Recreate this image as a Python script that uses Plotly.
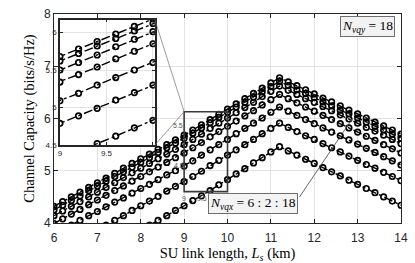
import plotly.graph_objects as go

# ---------------- data ----------------
x_km = [6.0, 6.2, 6.4, 6.6, 6.8, 7.0, 7.2, 7.4, 7.6, 7.8,
        8.0, 8.2, 8.4, 8.6, 8.8, 9.0, 9.2, 9.4, 9.6, 9.8,
        10.0, 10.2, 10.4, 10.6, 10.8, 11.0, 11.2, 11.4, 11.6, 11.8,
        12.0, 12.2, 12.4, 12.6, 12.8, 13.0, 13.2, 13.4, 13.6, 13.8, 14.0]

N_vqx = [18, 16, 14, 12, 10, 8, 6]

cap_18 = [4.32, 4.41, 4.50, 4.59, 4.68, 4.77, 4.86, 4.95, 5.05, 5.14,
          5.23, 5.32, 5.41, 5.50, 5.59, 5.68, 5.78, 5.88, 5.98, 6.08,
          6.18, 6.28, 6.38, 6.48, 6.58, 6.68, 6.78, 6.70, 6.63, 6.55,
          6.47, 6.39, 6.32, 6.24, 6.16, 6.09, 6.01, 5.93, 5.86, 5.78, 5.70]
cap_16 = [4.25, 4.34, 4.43, 4.52, 4.62, 4.71, 4.80, 4.89, 4.98, 5.07,
          5.16, 5.25, 5.35, 5.44, 5.53, 5.62, 5.72, 5.82, 5.92, 6.02,
          6.12, 6.22, 6.31, 6.41, 6.51, 6.61, 6.71, 6.63, 6.55, 6.48,
          6.40, 6.32, 6.24, 6.16, 6.09, 6.01, 5.93, 5.85, 5.78, 5.70, 5.62]
cap_14 = [4.14, 4.23, 4.32, 4.41, 4.50, 4.59, 4.68, 4.77, 4.87, 4.96,
          5.05, 5.14, 5.23, 5.32, 5.41, 5.50, 5.60, 5.70, 5.81, 5.91,
          6.01, 6.11, 6.21, 6.31, 6.42, 6.52, 6.62, 6.54, 6.46, 6.38,
          6.31, 6.23, 6.15, 6.07, 5.99, 5.91, 5.83, 5.76, 5.68, 5.60, 5.52]
cap_12 = [3.99, 4.08, 4.17, 4.26, 4.35, 4.44, 4.53, 4.62, 4.71, 4.80,
          4.89, 4.98, 5.07, 5.16, 5.25, 5.34, 5.44, 5.54, 5.65, 5.75,
          5.85, 5.95, 6.05, 6.15, 6.26, 6.36, 6.46, 6.38, 6.30, 6.22,
          6.14, 6.06, 5.98, 5.90, 5.82, 5.74, 5.66, 5.58, 5.50, 5.42, 5.34]
cap_10 = [3.79, 3.88, 3.96, 4.05, 4.14, 4.22, 4.31, 4.40, 4.48, 4.57,
          4.66, 4.74, 4.83, 4.92, 5.00, 5.09, 5.19, 5.30, 5.40, 5.50,
          5.60, 5.71, 5.81, 5.91, 6.01, 6.12, 6.22, 6.14, 6.06, 5.98,
          5.90, 5.82, 5.74, 5.67, 5.59, 5.51, 5.43, 5.35, 5.27, 5.19, 5.11]
cap_8 = [3.40, 3.50, 3.59, 3.68, 3.77, 3.87, 3.96, 4.05, 4.14, 4.24,
         4.33, 4.42, 4.51, 4.61, 4.70, 4.79, 4.89, 4.99, 5.10, 5.20,
         5.30, 5.40, 5.50, 5.60, 5.71, 5.81, 5.91, 5.83, 5.75, 5.67,
         5.60, 5.52, 5.44, 5.36, 5.28, 5.20, 5.12, 5.05, 4.97, 4.89, 4.81]
cap_6 = [2.92, 3.01, 3.11, 3.20, 3.30, 3.39, 3.49, 3.58, 3.67, 3.77,
         3.86, 3.96, 4.05, 4.14, 4.24, 4.33, 4.43, 4.52, 4.62, 4.73,
         4.83, 4.94, 5.04, 5.15, 5.25, 5.36, 5.46, 5.38, 5.30, 5.22,
         5.14, 5.06, 4.98, 4.90, 4.82, 4.74, 4.66, 4.58, 4.50, 4.42, 4.34]

series = [cap_18, cap_16, cap_14, cap_12, cap_10, cap_8, cap_6]

x_ticks = [6, 7, 8, 9, 10, 11, 12, 13, 14]
y_ticks = [4, 5, 6, 7, 8]
inset_x_ticks = [9, 9.5, 10]
inset_y_ticks = [4.5, 5, 5.5, 6]

# ---------------- layout constants ----------------
W, H = 415, 263
ML, MR, MT, MB = 54, 10, 7, 36
main_xr = [6, 14]
main_yr = [4, 8]
inset_xr = [9, 10.02]
inset_yr = [4.5, 6.17]
inset_xdom = [0.0171, 0.2906]
inset_ydom = [0.3727, 0.9727]
zoom_box_x = [9, 10]
zoom_box_y = [4.6, 6.13]

axis_col = '#262626'
grid_col = '#e3e3e3'
serif = 'Liberation Serif'
sans = 'Liberation Sans'

fig = go.Figure()

for name, vals in zip(N_vqx, series):
    for xa, ya in (('x', 'y'), ('x2', 'y2')):
        fig.add_trace(go.Scatter(
            x=x_km, y=vals, xaxis=xa, yaxis=ya, mode='lines+markers',
            name=f'N_vqx={name}', showlegend=False, cliponaxis=True,
            line=dict(color='black', width=1.4, dash='dashdot'),
            marker=dict(symbol='circle-open', size=5.5, color='black',
                        line=dict(width=1.7, color='black'))))

common_axis = dict(showline=True, linecolor=axis_col, mirror='ticks', ticks='inside',
                   tickcolor=axis_col, showgrid=True, gridcolor=grid_col, zeroline=False)

fig.update_layout(
    width=W, height=H,
    margin=dict(l=ML, r=MR, t=MT, b=MB),
    paper_bgcolor='white', plot_bgcolor='white',
    xaxis=dict(domain=[0, 1], range=main_xr, tickvals=x_ticks, ticklen=4, linewidth=1,
               ticklabelstandoff=4,
               tickfont=dict(family=sans, size=12, color=axis_col),
               title=dict(text='SU link length, <i>L</i><sub><i>s</i></sub> (km)',
                          font=dict(family=serif, size=14.5, color='black'), standoff=0),
               **common_axis),
    yaxis=dict(domain=[0, 1], range=main_yr, tickvals=y_ticks, ticklen=4, linewidth=1,
               tickfont=dict(family=sans, size=12, color=axis_col),
               title=dict(text='Channel Capacity (bits/s/Hz)',
                          font=dict(family=serif, size=14.5, color='black'), standoff=5),
               **common_axis),
    xaxis2=dict(domain=inset_xdom, range=inset_xr, tickvals=inset_x_ticks, anchor='y2',
                ticklen=3, linewidth=1.5, ticklabelstandoff=0,
                tickfont=dict(family=sans, size=8, color=axis_col), **common_axis),
    yaxis2=dict(domain=inset_ydom, range=inset_yr, tickvals=inset_y_ticks, anchor='x2',
                ticklen=3, linewidth=1.5, ticklabelstandoff=0,
                tickfont=dict(family=sans, size=8, color=axis_col), **common_axis),
)

# zoom rectangle on main axes
fig.add_shape(type='rect', xref='x', yref='y', x0=zoom_box_x[0], x1=zoom_box_x[1],
              y0=zoom_box_y[0], y1=zoom_box_y[1], line=dict(color='#3a3a3a', width=1.6),
              layer='above')

# connectors (computed in paper coords)
def to_paper_x(v):
    return (v - main_xr[0]) / (main_xr[1] - main_xr[0])

def to_paper_y(v):
    return (v - main_yr[0]) / (main_yr[1] - main_yr[0])

rx, ry = to_paper_x(zoom_box_x[0]), to_paper_y(zoom_box_y[1])
for iy in (inset_ydom[1], inset_ydom[0]):
    fig.add_shape(type='line', xref='paper', yref='paper', x0=inset_xdom[1], y0=iy,
                  x1=rx, y1=ry, line=dict(color='#707070', width=0.7), layer='above')

# small tick labels drawn around zoom rectangle
small_lbls = [('5.5', 0.356, 0.468), ('4.5', 0.359, 0.277), ('9', 0.376, 0.118), ('9.5', 0.427, 0.118)]
for t, px, py in small_lbls:
    fig.add_annotation(text=t, xref='paper', yref='paper', x=px, y=py, showarrow=False,
                       xanchor='center', yanchor='middle',
                       font=dict(family=sans, size=7, color='#555555'))

# N_vqy box
fig.add_annotation(text='<i>N</i><sub><i>vqy</i></sub> = 18', xref='paper', yref='paper',
                   x=0.903, y=0.9386, showarrow=False, xanchor='center', yanchor='middle',
                   font=dict(family=serif, size=13.5, color='black'),
                   bgcolor='#f2f2f2', bordercolor='#6e6e6e', borderwidth=1, borderpad=1)

# arrow for N_vqx label
arrow_tip = (12.88, 6.0)
fig.add_annotation(text='', x=arrow_tip[0], y=arrow_tip[1], xref='x', yref='y',
                   ax=-54, ay=80, showarrow=True, arrowhead=2, arrowsize=0.8,
                   arrowwidth=0.8, arrowcolor='#404040')

fig.add_annotation(text='<i>N</i><sub><i>vqx</i></sub> = 6 : 2 : 18', xref='x', yref='y',
                   x=10.58, y=4.38, showarrow=False, xanchor='center', yanchor='middle',
                   font=dict(family=serif, size=13.5, color='black'),
                   bgcolor='#f4f4f4', bordercolor='#6e6e6e', borderwidth=1, borderpad=1)

fig.write_html('out.html', config={'displayModeBar': False},
               post_script="document.body.style.margin='0';document.body.style.overflow='hidden';")
